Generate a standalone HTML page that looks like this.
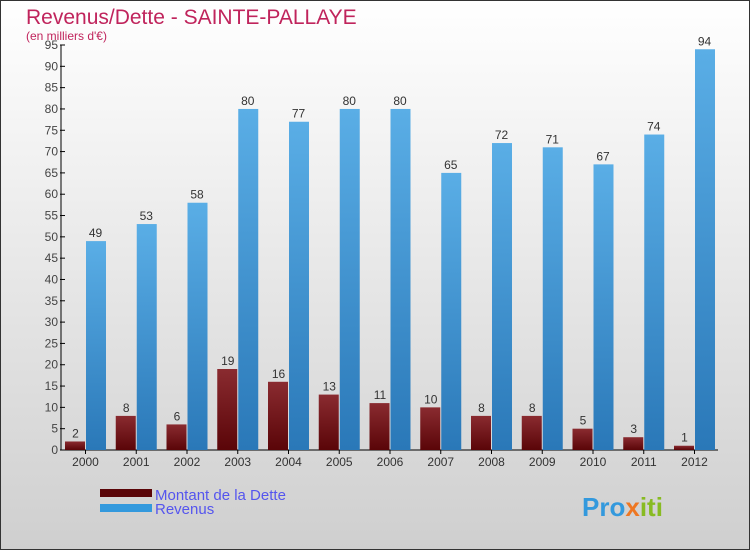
<!DOCTYPE html>
<html><head><meta charset="utf-8"><style>
body{margin:0;width:750px;height:550px;overflow:hidden;font-family:"Liberation Sans",sans-serif}
</style></head><body>
<svg width="750" height="550" xmlns="http://www.w3.org/2000/svg">
<defs>
<linearGradient id="bg" x1="0" y1="0" x2="0" y2="1"><stop offset="0" stop-color="#ffffff"/><stop offset="1" stop-color="#cfcfcf"/></linearGradient>
<linearGradient id="gr" x1="0" y1="0" x2="0" y2="1"><stop offset="0" stop-color="#8a2b30"/><stop offset="1" stop-color="#5a0508"/></linearGradient>
<linearGradient id="gb" x1="0" y1="0" x2="0" y2="1"><stop offset="0" stop-color="#5aaee6"/><stop offset="1" stop-color="#2a78b8"/></linearGradient>
</defs>
<rect x="0.5" y="0.5" width="749" height="549" fill="url(#bg)" stroke="#333"/>
<text x="26" y="24" font-size="21" fill="#c0245c">Revenus/Dette - SAINTE-PALLAYE</text>
<text x="26" y="40" font-size="12" fill="#c0245c">(en milliers d'€)</text>
<g id="axes"></g>
<g id="bars"></g>
<g>
<rect x="100" y="489" width="52" height="8" fill="#5a0508"/>
<text x="155" y="500" font-size="15" fill="#5555ee">Montant de la Dette</text>
<rect x="100" y="504" width="52" height="8" fill="#3399dd"/>
<text x="155" y="514" font-size="15" fill="#5555ee">Revenus</text>
</g>
<text x="582" y="516" font-size="26" font-weight="bold" fill="#3399dd">Pro<tspan fill="#ee7722">x</tspan><tspan fill="#88bb22">iti</tspan></text>
</svg>
<script>
const years=["2000","2001","2002","2003","2004","2005","2006","2007","2008","2009","2010","2011","2012"];
const dette=[2,8,6,19,16,13,11,10,8,8,5,3,1];
const revenus=[49,53,58,80,77,80,80,65,72,71,67,74,94];
const yTicks=[0,5,10,15,20,25,30,35,40,45,50,55,60,65,70,75,80,85,90,95];
const NS="http://www.w3.org/2000/svg";
const y0=450,yTop=45,yMax=95,axX=61,step=50.75,c0=85.5,bw=20;
const y=v=>y0-(v/yMax)*(y0-yTop);
const x=i=>c0+i*step;
function mk(tag,attrs,parent){const e=document.createElementNS(NS,tag);for(const k in attrs)e.setAttribute(k,attrs[k]);parent.appendChild(e);return e;}
const ax=document.getElementById('axes'),bars=document.getElementById('bars');
let l=mk('line',{x1:axX,y1:yTop,x2:axX,y2:y0,stroke:'#000'},ax);


l=mk('line',{x1:axX,y1:y0,x2:718,y2:y0,stroke:'#000'},ax);


yTicks.forEach(v=>{
 mk('line',{x1:axX-1,y1:y(v),x2:axX+4,y2:y(v),stroke:'#000'},ax);
 const t=mk('text',{x:axX-3,y:y(v)+4,'font-size':12,fill:'#444','text-anchor':'end'},ax);
 t.textContent=v;
 
 
});
years.forEach((yr,i)=>{
 mk('line',{x1:x(i),y1:y0,x2:x(i),y2:y0+4,stroke:'#000'},ax);
 const t=mk('text',{x:x(i),y:y0+16,'font-size':12,fill:'#333','text-anchor':'middle'},ax);
 t.textContent=yr;
 
 
 const r1=mk('rect',{x:x(i)-bw-0.5,y:y(dette[i]),width:bw,height:y0-y(dette[i]),fill:'url(#gr)'},bars);
 
 
 const r2=mk('rect',{x:x(i)+0.5,y:y(revenus[i]),width:bw,height:y0-y(revenus[i]),fill:'url(#gb)'},bars);
 
 
 const a=mk('text',{x:x(i)-bw/2,y:y(dette[i])-4,'font-size':12,fill:'#333','text-anchor':'middle'},bars);
 a.textContent=dette[i];
 
 
 const b=mk('text',{x:x(i)+bw/2,y:y(revenus[i])-4,'font-size':12,fill:'#333','text-anchor':'middle'},bars);
 b.textContent=revenus[i];
 
 
});
</script>
</body></html>
